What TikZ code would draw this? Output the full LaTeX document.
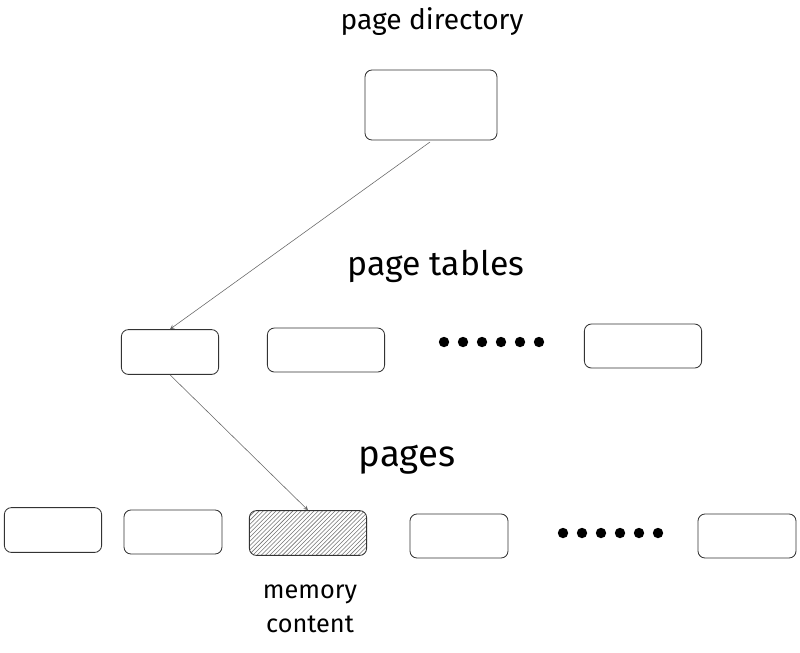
\documentclass[tikz,border=0pt]{standalone}
\usepackage{fontspec}
\setmainfont{Fira Sans}
\usetikzlibrary{patterns,positioning}
\begin{document}
\begin{tikzpicture}[x=0.025cm,y=-0.025cm,
  box/.style={draw=black!80,rounded corners=5pt,line width=0.6pt,inner sep=0pt},
  hatched/.style={box,fill=black!15,pattern=north east lines,pattern color=black!55},
  title/.style={font=\fontsize{20}{22}\selectfont},
  link/.style={draw=black!60,line width=0.4pt,-stealth}]

  \useasboundingbox (0,0) rectangle (800,652);

  % page directory
  \node[title] (dirlabel) at (432,22) {page directory};
  \node[box,minimum width=3.3cm,minimum height=1.75cm] (dir) at (431,105) {};

  % page tables
  \node[title,font=\fontsize{24}{26}\selectfont] (tbllabel) at (436,266) {page tables};
  \node[box,minimum width=2.43cm,minimum height=1.12cm] (tbl1) at (170,352) {};
  \node[box,minimum width=2.93cm,minimum height=1.1cm] (tbl2) at (326,350) {};
  \node[box,minimum width=2.93cm,minimum height=1.1cm] (tbl3) at (643,346) {};
  \foreach \i in {0,...,5}
    \fill (444+\i*19,342) circle (5.2);

  % pages
  \node[title,font=\fontsize{26}{28}\selectfont] (pglabel) at (407,460) {pages};
  \node[box,minimum width=2.43cm,minimum height=1.12cm] (pg1) at (53,530) {};
  \node[box,minimum width=2.45cm,minimum height=1.1cm] (pg2) at (173,532) {};
  \node[hatched,minimum width=2.93cm,minimum height=1.12cm] (pg3) at (308,533) {};
  \node[box,minimum width=2.45cm,minimum height=1.1cm] (pg4) at (459,536) {};
  \node[box,minimum width=2.45cm,minimum height=1.1cm] (pg5) at (747,536) {};
  \foreach \i in {0,...,5}
    \fill (563+\i*19,533) circle (5.2);
  \node[title,align=center,font=\fontsize{18}{24}\selectfont] (memlabel) at (310,609) {memory\\content};

  % links
  \draw[link] (430,142) -- (tbl1.north);
  \draw[link] (tbl1.south) -- (pg3.north);
\end{tikzpicture}
\end{document}
